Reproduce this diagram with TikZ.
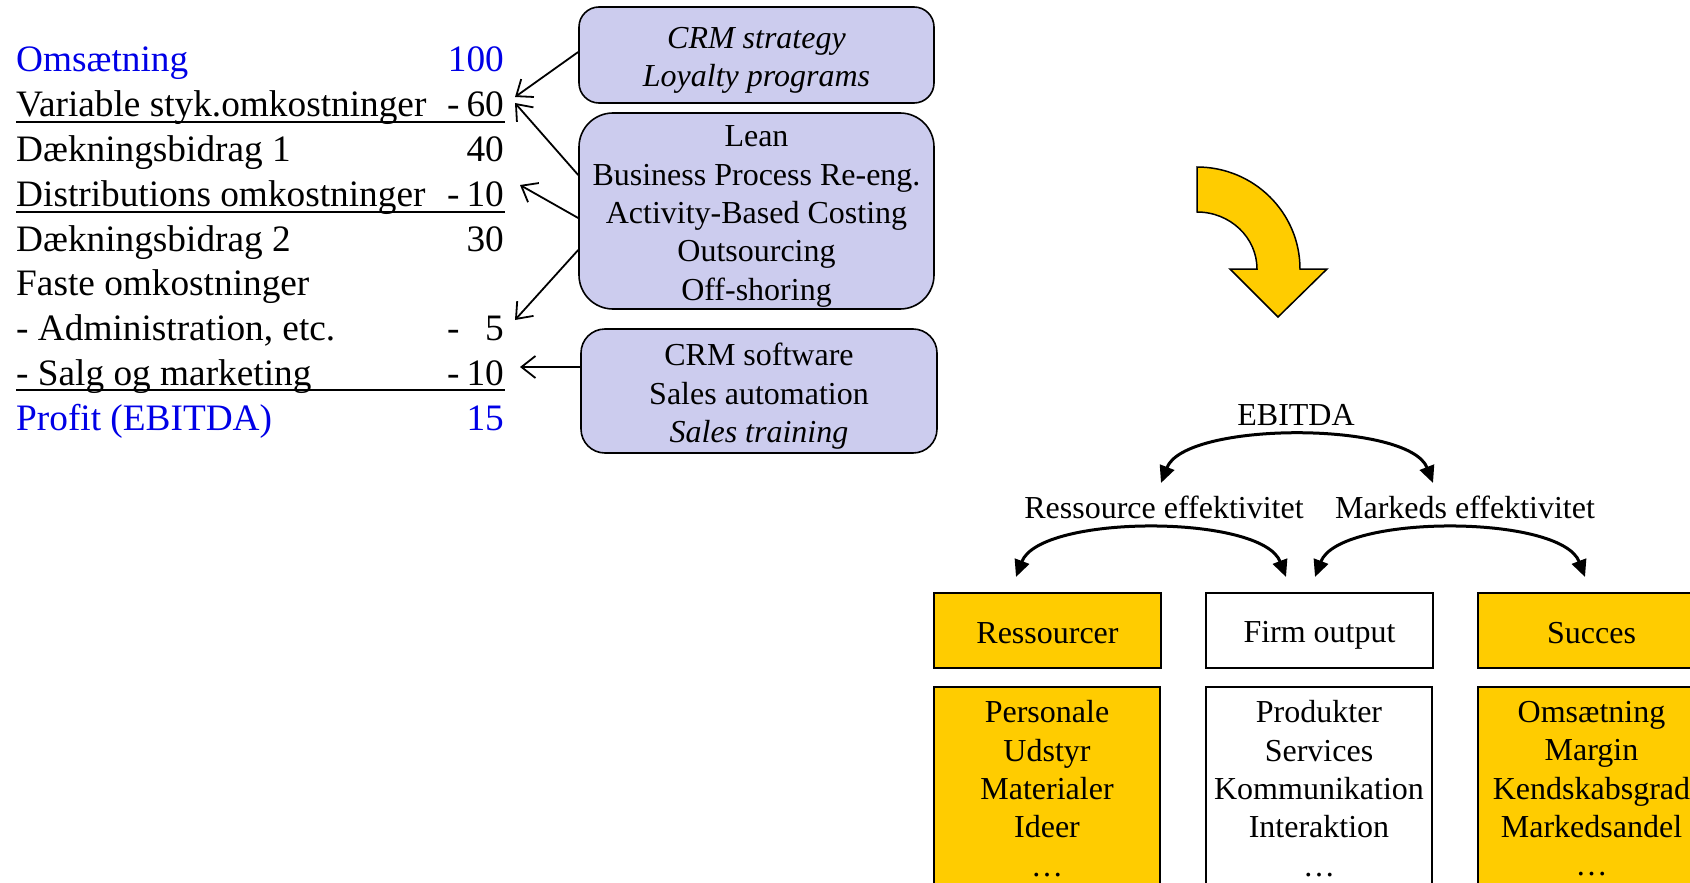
\documentclass[tikz,border=0pt]{standalone}
\usepackage{fontspec}
\setmainfont{Liberation Serif}
\usetikzlibrary{arrows.meta}
\definecolor{tblue}{RGB}{0,0,230}
\definecolor{lav}{RGB}{204,204,238}
\definecolor{gold}{RGB}{255,204,0}
\newcommand\mystrut{\rule[-5pt]{0pt}{31pt}}
\newcommand\topstrut{\rule[-5pt]{0pt}{36.4pt}}
\newcommand\botstrut{\rule{0pt}{1pt}}
\begin{document}
\begin{tikzpicture}[x=1pt,y=1pt,
  tab/.style={inner sep=0pt, font=\fontsize{37.3}{44}\selectfont},
  row/.style={tab, anchor=base west},
  num/.style={tab, anchor=base east},
  mns/.style={tab, anchor=base west},
  lbox/.style={draw=black, line width=1.6pt, fill=lav, inner sep=0pt},
  btxt/.style={align=center, inner sep=0pt, font=\fontsize{32}{38.3}\selectfont,
    execute at begin node=\topstrut, execute at end node=\botstrut},
  lbl/.style={inner sep=0pt, font=\fontsize{32}{38.3}\selectfont, execute at begin node=\mystrut},
  cbox/.style={draw=black, line width=1.6pt, align=center, inner sep=0pt, minimum width=227pt,
    font=\fontsize{32}{38.3}\selectfont, execute at begin node=\topstrut, execute at end node=\botstrut},
  barb/.style={line width=1.8pt, -{Straight Barb[length=14pt,width=22pt]}},
  arcarrow/.style={line width=3pt, {Triangle[length=17pt,width=15pt]}-{Triangle[length=17pt,width=15pt]}},
  uline/.style={line width=1.8pt}
]
\useasboundingbox (0,0) rectangle (1690,-883);

% ---------- left table ----------
\node[row, text=tblue] (r0) at (16,-72) {Omsætning};
\node[num, text=tblue] (n0) at (504,-72) {100};
\node[row] (r1) at (16,-116.75) {Variable styk.omkostninger};
\node[mns] (m1) at (447,-116.75) {-};
\node[num] (n1) at (504,-116.75) {60};
\node[row] (r2) at (16,-161.5) {Dækningsbidrag 1};
\node[num] (n2) at (504,-161.5) {40};
\node[row] (r3) at (16,-206.25) {Distributions omkostninger};
\node[mns] (m3) at (447,-206.25) {-};
\node[num] (n3) at (504,-206.25) {10};
\node[row] (r4) at (16,-251) {Dækningsbidrag 2};
\node[num] (n4) at (504,-251) {30};
\node[row] (r5) at (16,-295.75) {Faste omkostninger};
\node[row] (r6) at (16,-340.5) {- Administration, etc.};
\node[mns] (m6) at (447,-340.5) {-};
\node[num] (n6) at (504,-340.5) {5};
\node[row] (r7) at (16,-385.25) {- Salg og marketing};
\node[mns] (m7) at (447,-385.25) {-};
\node[num] (n7) at (504,-385.25) {10};
\node[row, text=tblue] (r8) at (16,-430) {Profit (EBITDA)};
\node[num, text=tblue] (n8) at (504,-430) {15};

\draw[uline] (16,-122) -- (505,-122);
\draw[uline] (16,-212) -- (505,-212);
\draw[uline] (16,-390) -- (505,-390);

% ---------- lavender boxes ----------
\node[lbox, rounded corners=20pt, minimum width=355pt, minimum height=96pt] (b1) at (756.5,-55) {};
\node[btxt] (b1t) at ([yshift=-5.4pt]b1.center) {\textit{CRM strategy}\\\textit{Loyalty programs}};
\node[lbox, rounded corners=34pt, minimum width=355pt, minimum height=196pt] (b2) at (756.5,-211) {};
\node[btxt] (b2t) at ([yshift=-5.4pt]b2.center)
  {Lean\\Business Process Re-eng.\\Activity-Based Costing\\Outsourcing\\Off-shoring};
\node[lbox, rounded corners=24pt, minimum width=356pt, minimum height=124pt] (b3) at (759,-391) {};
\node[btxt] (b3t) at ([yshift=-5.4pt]b3.center) {CRM software\\Sales automation\\\textit{Sales training}};

\coordinate (t1) at (515,-97);
\coordinate (t2) at (515,-103);
\coordinate (t3) at (520,-185);
\coordinate (t4) at (515,-320);
\coordinate (t5) at (520,-367);
\draw[barb] ([yshift=3pt]b1.west) -- (t1);
\draw[barb] ([yshift=36pt]b2.west) -- (t2);
\draw[barb] ([yshift=-7pt]b2.west) -- (t3);
\draw[barb] ([yshift=-39pt]b2.west) -- (t4);
\draw[barb] ([yshift=24pt]b3.west) -- (t5);

% ---------- yellow curved arrow ----------
\draw[fill=gold, line width=1.5pt, line join=miter]
  (1197,-167) arc[start angle=90, end angle=0, x radius=103, y radius=102]
  -- (1327,-269) -- (1278,-317) -- (1230,-269) -- (1257,-269)
  arc[start angle=0, end angle=90, x radius=60, y radius=57] -- cycle;

% ---------- EBITDA diagram ----------
\node[lbl] (ebitda) at (1296,-415) {EBITDA};
\node[lbl] (reff) at (1164,-508) {Ressource effektivitet};
\node[lbl] (meff) at (1465,-508) {Markeds effektivitet};

\coordinate (e1) at (1161,-483);
\coordinate (e2) at (1433,-483);
\draw[arcarrow] (e1) .. controls (1185,-421) and (1409,-421) .. (e2);
\coordinate (f1) at (1016,-577);
\coordinate (f2) at (1286,-577);
\draw[arcarrow] (f1) .. controls (1040,-514) and (1262,-514) .. (f2);
\coordinate (g1) at (1315,-577);
\coordinate (g2) at (1585,-577);
\draw[arcarrow] (g1) .. controls (1339,-514) and (1561,-514) .. (g2);

\node[cbox, fill=gold, minimum height=75pt] (res) at (1047.5,-630.5) {Ressourcer};
\node[cbox, fill=white, minimum height=75pt] (firm) at (1319.5,-630.5) {Firm output};
\node[cbox, fill=gold, minimum height=75pt] (suc) at (1591.5,-630.5) {Succes};

\node[cbox, fill=gold, minimum width=226pt, minimum height=197pt] (resl) at (1047,-785.5) {};
\node[btxt] (reslt) at ([yshift=-5.4pt]resl.center) {Personale\\Udstyr\\Materialer\\Ideer\\\dots};
\node[cbox, fill=white, minimum width=226pt, minimum height=197pt] (firml) at (1319,-785.5) {};
\node[btxt] (firmlt) at ([yshift=-5.4pt]firml.center) {Produkter\\Services\\Kommunikation\\Interaktion\\\dots};
\node[cbox, fill=gold, minimum width=227pt, minimum height=197pt] (sucl) at (1591.5,-785.5) {};
\node[btxt] (suclt) at ([yshift=-5.4pt]sucl.center) {Omsætning\\Margin\\Kendskabsgrad\\Markedsandel\\\dots};
\end{tikzpicture}
\end{document}
